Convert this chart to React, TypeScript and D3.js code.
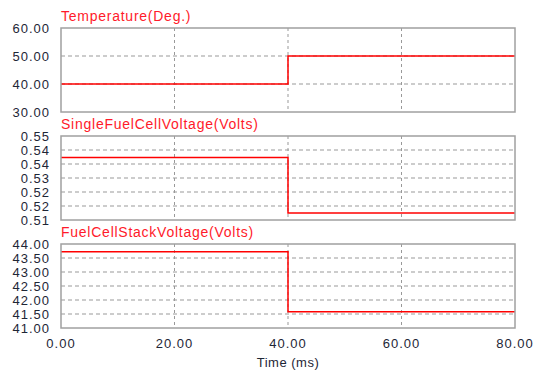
import React from "react";
import * as d3 from "d3";

// Step-change test: temperature raised at t = 40 ms
const timeMs = [0, 40, 80];
const temperature = [40, 50, 50];
const cellVoltage = [0.5398, 0.5133, 0.5133];
const stackVoltage = [43.72, 41.58, 41.58];

const xTicks = [0, 20, 40, 60, 80];
const panelTitles = [
  "Temperature(Deg.)",
  "SingleFuelCellVoltage(Volts)",
  "FuelCellStackVoltage(Volts)",
];
const panelDomains: [number, number][] = [
  [30, 60],
  [0.51, 0.55],
  [41, 44],
];
const panelDivisions = [3, 6, 6];
const xLabel = "Time (ms)";

const W = 534;
const H = 372;
const left = 61;
const right = 515;
const panelTops = [28, 136, 244];
const panelH = 84;
const font = "'Liberation Sans', Arial, sans-serif";

export default function App() {
  const x = d3.scaleLinear().domain([0, 80]).range([left, right]);
  const series = [temperature, cellVoltage, stackVoltage];

  return (
    <svg
      width={W}
      height={H}
      style={{ position: "absolute", left: 0, top: 0, background: "#fff" }}
    >
      {series.map((vals, p) => {
        const top = panelTops[p];
        const [lo, hi] = panelDomains[p];
        const y = d3.scaleLinear().domain([lo, hi]).range([top + panelH, top]);
        const n = panelDivisions[p];
        const yTicks = d3.range(n + 1).map((i) => lo + ((hi - lo) * i) / n);
        const line = d3
          .line<number>()
          .x((_, i) => x(timeMs[i]))
          .y((v) => y(v))
          .curve(d3.curveStepAfter);
        return (
          <g key={p}>
            <text
              x={left}
              y={top - 7.5}
              fill="#ff1a2a"
              fontFamily={font}
              fontSize={14}
              letterSpacing={0.75}
            >
              {panelTitles[p]}
            </text>
            {yTicks.slice(1, -1).map((t, i) => (
              <line
                key={"h" + i}
                x1={left}
                x2={right}
                y1={y(t)}
                y2={y(t)}
                stroke="#999"
                strokeWidth={1}
                strokeDasharray="4,3"
              />
            ))}
            {xTicks.slice(1, -1).map((t, i) => (
              <line
                key={"v" + i}
                x1={x(t)}
                x2={x(t)}
                y1={top}
                y2={top + panelH}
                stroke="#999"
                strokeWidth={1}
                strokeDasharray="3,3"
              />
            ))}
            <path d={line(vals) || ""} fill="none" stroke="#ff0000" strokeWidth={1.5} />
            <rect
              x={left}
              y={top}
              width={right - left}
              height={panelH}
              fill="none"
              stroke="#a0a0a0"
              strokeWidth={1.5}
            />
            {yTicks.map((t, i) => (
              <text
                key={"l" + i}
                x={50}
                y={y(t)}
                dy="0.36em"
                textAnchor="end"
                fill="#1e2636"
                fontFamily={font}
                fontSize={13}
                letterSpacing={1}
              >
                {d3.format(".2f")(t)}
              </text>
            ))}
          </g>
        );
      })}
      {xTicks.map((t, i) => (
        <text
          key={"x" + i}
          x={x(t)}
          y={348}
          textAnchor="middle"
          fill="#1e2636"
          fontFamily={font}
          fontSize={13}
          letterSpacing={1}
        >
          {d3.format(".2f")(t)}
        </text>
      ))}
      <text
        x={x(40)}
        y={367}
        textAnchor="middle"
        fill="#1e2636"
        fontFamily={font}
        fontSize={13}
        letterSpacing={0.5}
      >
        {xLabel}
      </text>
    </svg>
  );
}
